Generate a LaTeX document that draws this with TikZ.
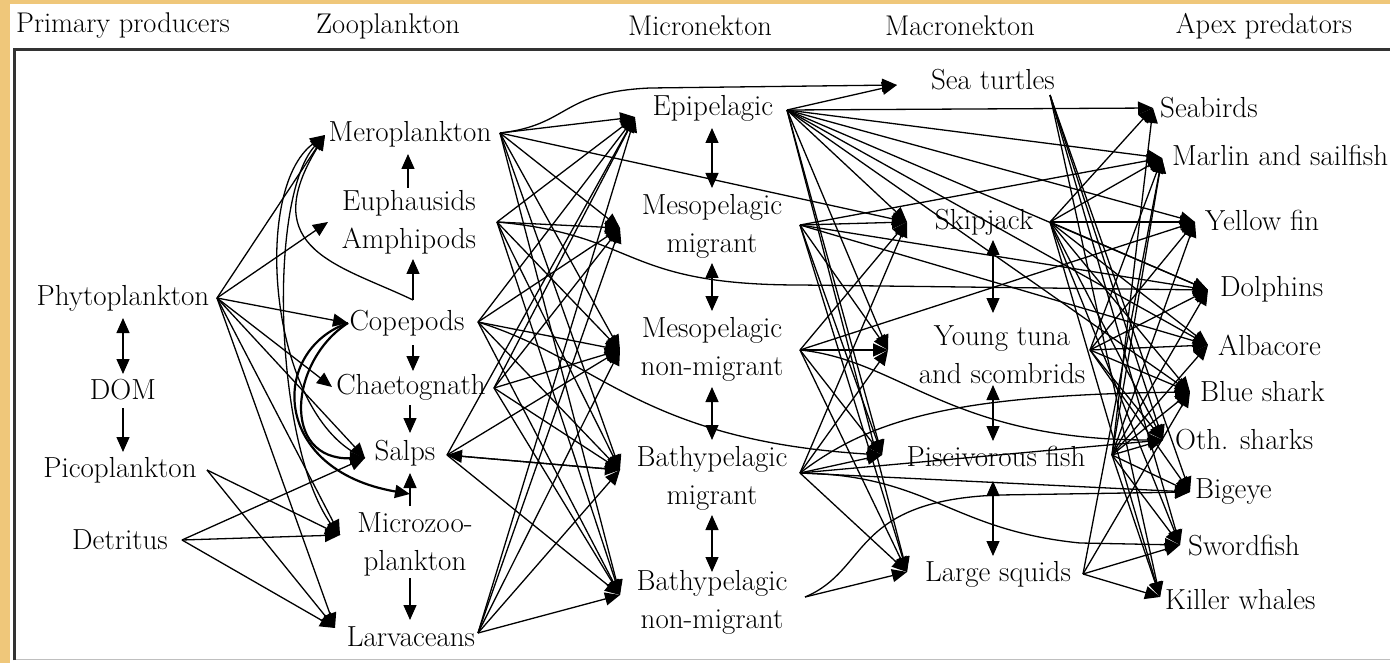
\documentclass[tikz,border=0pt]{standalone}
\usetikzlibrary{arrows.meta,calc}
\definecolor{bgc}{HTML}{EFC77A}
\begin{document}
\begin{tikzpicture}[x=1pt,y=-1pt,
  lbl/.style={font=\fontsize{29}{38}\selectfont, inner sep=0pt, align=center},
  hdr/.style={font=\fontsize{28.5}{32}\selectfont, inner sep=0pt},
  ed/.style={draw, line width=1.3pt, -{Triangle[length=15pt,width=13pt]}},
  dbl/.style={draw, line width=1.3pt, {Triangle[length=15pt,width=13pt]}-{Triangle[length=15pt,width=13pt]}},
  thk/.style={ed, line width=2.2pt}]
\useasboundingbox (0,0) rectangle (1390,663);
\fill[bgc] (0,0) rectangle (1390,663);
\fill[white] (10,4) rectangle (1390,663);
\draw[line width=1pt, gray!50] (14,659) -- (1390,659);
\draw[line width=3pt, black!80] (14,660) -- (14,50) -- (1390,50);

% headers
\node[hdr] (h1) at (123,26) {Primary producers};
\node[hdr] (h2) at (388,26) {Zooplankton};
\node[hdr] (h3) at (700,26) {Micronekton};
\node[hdr] (h4) at (960,26) {Macronekton};
\node[hdr] (h5) at (1264,26) {Apex predators};

% primary producers
\node[lbl] (phyto) at (123,298) {Phytoplankton};
\node[lbl] (dom) at (123,390) {DOM};
\node[lbl] (pico) at (120,470) {Picoplankton};
\node[lbl] (det) at (120,540) {Detritus};
% zooplankton
\node[lbl] (mero) at (410,134) {Meroplankton};
\node[lbl] (euph) at (409,222) {Euphausids\\Amphipods};
\node[lbl] (cope) at (407,323) {Copepods};
\node[lbl] (chae) at (411,387) {Chaetognath};
\node[lbl] (salp) at (405,453) {Salps};
\node[lbl] (micro) at (415,544) {Microzoo-\\plankton};
\node[lbl] (larv) at (411,637) {Larvaceans};
% micronekton
\node[lbl] (epi) at (713,108) {Epipelagic};
\node[lbl] (mm) at (712,226) {Mesopelagic\\migrant};
\node[lbl] (mn) at (712,349) {Mesopelagic\\non-migrant};
\node[lbl] (bm) at (712,478) {Bathypelagic\\migrant};
\node[lbl] (bn) at (712,602) {Bathypelagic\\non-migrant};
% macronekton
\node[lbl] (tur) at (993,80) {Sea turtles};
\node[lbl] (ski) at (984,222) {Skipjack};
\node[lbl] (yt) at (1002,355) {Young tuna\\and scombrids};
\node[lbl] (pis) at (996,456) {Piscivorous fish};
\node[lbl] (sq) at (998,574) {Large squids};
% apex
\node[lbl,anchor=west] (bird) at (1160,108) {Seabirds};
\node[lbl,anchor=west] (mar) at (1172,155) {Marlin and sailfish};
\node[lbl,anchor=west] (yf) at (1205,220) {Yellow fin};
\node[lbl,anchor=west] (dol) at (1220,289) {Dolphins};
\node[lbl,anchor=west] (alb) at (1218,345) {Albacore};
\node[lbl,anchor=west] (bs) at (1200,392) {Blue shark};
\node[lbl,anchor=west] (os) at (1175,440) {Oth. sharks};
\node[lbl,anchor=west] (be) at (1195,492) {Bigeye};
\node[lbl,anchor=west] (sw) at (1188,546) {Swordfish};
\node[lbl,anchor=west] (kw) at (1165,600) {Killer whales};

% hubs (out)
\coordinate (phyO) at (217,298);
\coordinate (picoO) at (207,470);
\coordinate (detO) at (182,540);
\coordinate (meroO) at (500,133);
\coordinate (euphO) at (497,222);
\coordinate (copeO) at (478,322);
\coordinate (chaeO) at (494,388);
\coordinate (salpO) at (447,455);
\coordinate (larvO) at (478,633);
\coordinate (epiO) at (787,110);
\coordinate (mmO) at (800,225);
\coordinate (mnO) at (800,350);
\coordinate (bmO) at (800,473);
\coordinate (bnO) at (805,597);
\coordinate (turO) at (1050,95);
\coordinate (skiO) at (1050,222);
\coordinate (ytO) at (1090,350);
\coordinate (pisO) at (1112,455);
\coordinate (sqO) at (1083,574);
% targets (in)
\coordinate (meroI) at (325,135);
\coordinate (euphI) at (328,222);
\coordinate (copeI) at (348,323);
\coordinate (chaeI) at (332,387);
\coordinate (salpI) at (365,458);
\coordinate (microI) at (340,535);
\coordinate (larvI) at (335,628);
\coordinate (epiI) at (635,117);
\coordinate (mmI) at (620,228);
\coordinate (mnI) at (620,350);
\coordinate (bmI) at (620,470);
\coordinate (bnI) at (620,595);
\coordinate (turI) at (897,85);
\coordinate (skiI) at (907,222);
\coordinate (ytI) at (888,350);
\coordinate (pisI) at (882,455);
\coordinate (sqI) at (907,572);
\coordinate (birdI) at (1153,108);
\coordinate (marI) at (1162,158);
\coordinate (yfI) at (1195,222);
\coordinate (dolI) at (1208,290);
\coordinate (albI) at (1208,345);
\coordinate (bsI) at (1190,392);
\coordinate (osI) at (1163,440);
\coordinate (beI) at (1190,492);
\coordinate (swI) at (1180,545);
\coordinate (kwI) at (1160,597);

% vertical arrows
\draw[dbl] ($(phyto)+(0,20)$) -- ($(phyto|-dom)+(0,-16)$);
\draw[ed] ($(dom)+(0,18)$) -- ($(dom|-pico)+(0,-18)$);
\draw[ed] ($(mero|-euph)+(-2,-34)$) -- ($(mero)+(-2,20)$);
\draw[ed] ($(euph|-cope)+(4,-23)$) -- ($(euph)+(4,37)$);
\draw[ed] ($(euph|-cope)+(4,22)$) -- ($(euph|-chae)+(4,-16)$);
\draw[ed] ($(chae)+(-1,18)$) -- ($(chae|-salp)+(-1,-20)$);
\draw[ed] ($(salp|-micro)+(5,-38)$) -- ($(salp)+(5,20)$);
\draw[ed] ($(salp|-micro)+(5,34)$) -- ($(salp|-larv)+(5,-17)$);
\draw[dbl] ($(epi)+(-1,20)$) -- ($(mm)+(0,-38)$);
\draw[dbl] ($(mm)+(0,37)$) -- ($(mn)+(0,-38)$);
\draw[dbl] ($(mn)+(0,38)$) -- ($(bm)+(0,-38)$);
\draw[dbl] ($(bm)+(0,37)$) -- ($(bn)+(0,-30)$);
\draw[dbl] ($(pis|-ski)+(-3,18)$) -- ($(pis|-yt)+(-3,-42)$);
\draw[dbl] ($(pis|-yt)+(-3,30)$) -- ($(pis)+(-3,-15)$);
\draw[dbl] ($(pis)+(-3,25)$) -- ($(pis|-sq)+(-3,-18)$);

% primary producers -> zooplankton
\foreach \t in {meroI,euphI,copeI,chaeI,salpI,microI,larvI}
  \draw[ed] (phyO) -- (\t);
\foreach \t in {microI,larvI}
  \draw[ed] (picoO) -- (\t);
\foreach \t in {salpI,microI,larvI}
  \draw[ed] (detO) -- (\t);
% curves on the left
\draw[ed] ($(euph|-cope)+(4,-23)$) .. controls (340,265) and (255,250) .. (meroI);
\draw[ed] (salpI) .. controls (270,420) and (250,190) .. (meroI);
\draw[ed] (microI) .. controls (275,470) and (265,200) .. (meroI);
\draw[thk] (copeI) .. controls (270,350) and (270,470) .. ($(salp|-micro)+(5,-50)$);
\draw[thk] (copeI) .. controls (290,360) and (280,460) .. (salpI);

% zooplankton -> micronekton
\foreach \s in {meroO,euphO,copeO,chaeO,larvO}
  \foreach \t in {epiI,mmI,mnI,bmI,bnI}
    \draw[ed] (\s) -- (\t);
\foreach \t in {epiI,mnI,bmI,bnI}
  \draw[ed] (salpO) -- (\t);
\draw[ed] (bmI) -- (salpO);
\draw[ed] (meroO) .. controls (570,125) and (560,92) .. (650,88) -- (turI);
\draw[ed] (meroO) -- (skiI);
\draw[ed] (euphO) .. controls (640,235) and (620,285) .. (800,285) -- (dolI);
\draw[ed] (copeO) .. controls (600,360) and (640,440) .. (pisI);

% micronekton -> macronekton / apex
\foreach \t in {turI,birdI,marI,yfI,dolI,albI,skiI,ytI,pisI,sqI,bsI}
  \draw[ed] (epiO) -- (\t);
\foreach \t in {skiI,ytI,pisI,sqI,marI,dolI,albI}
  \draw[ed] (mmO) -- (\t);
\foreach \t in {skiI,ytI,pisI,sqI,yfI}
  \draw[ed] (mnO) -- (\t);
\foreach \t in {skiI,ytI,pisI,sqI,beI,osI}
  \draw[ed] (bmO) -- (\t);
\draw[ed] (bnO) -- (sqI);
\draw[ed] (bnO) .. controls (870,570) and (850,500) .. (1000,495) -- (beI);
\draw[ed] (bmO) .. controls (930,475) and (950,530) .. (1080,543) -- (swI);
\draw[ed] (mnO) .. controls (900,360) and (950,440) .. (osI);
\draw[ed] (bmO) .. controls (870,420) and (950,395) .. (bsI);

% macronekton -> apex
\foreach \t in {osI,kwI,beI,swI}
  \draw[ed] (turO) -- (\t);
\foreach \t in {yfI,marI,birdI,dolI,bsI,osI,kwI,swI,albI}
  \draw[ed] (skiO) -- (\t);
\foreach \t in {marI,yfI,dolI,albI,bsI,osI,beI}
  \draw[ed] (ytO) -- (\t);
\foreach \t in {birdI,marI,yfI,dolI,albI,bsI,osI,beI,swI,kwI}
  \draw[ed] (pisO) -- (\t);
\foreach \t in {swI,kwI,marI,bsI}
  \draw[ed] (sqO) -- (\t);
\end{tikzpicture}
\end{document}
